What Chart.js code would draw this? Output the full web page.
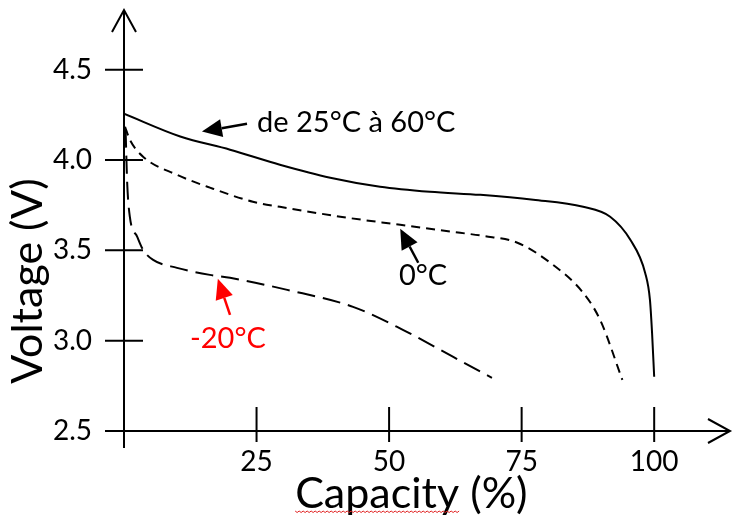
<!DOCTYPE html>
<html>
<head>
<meta charset="utf-8">
<script src="https://cdn.jsdelivr.net/npm/chart.js@4/dist/chart.umd.min.js"></script>
<style>
  html, body { margin: 0; padding: 0; background: #fff; }
  #wrap { width: 741px; height: 517px; }
</style>
</head>
<body>
<div id="wrap"><canvas id="chart"></canvas></div>
<script>
const FONT = 'Lato, "Open Sans", sans-serif';

const X_TICKS = [25, 50, 75, 100];
const Y_TICKS = [2.5, 3.0, 3.5, 4.0, 4.5];
const X_MAX = 114.3;
const Y_MIN = 2.5;
const Y_MAX = 4.83;

const X_TITLE = 'Capacity (%)';
const Y_TITLE = 'Voltage (V)';

// de 25°C à 60°C (solid)
const WARM_CAP = [0, 10.6, 20, 29.4, 38.9, 48.3, 57.7, 67.2, 77.2, 86.6, 91.7, 95.5, 98.3, 99.2, 99.6, 100];
const WARM_V = [4.256, 4.13, 4.057, 3.974, 3.902, 3.852, 3.824, 3.807, 3.78, 3.741, 3.686, 3.558, 3.375, 3.226, 3.043, 2.80];

// 0°C (short dashes)
const COLD_CAP = [0.2, 1.1, 3.6, 10, 16.2, 24.3, 29.4, 40.8, 52.1, 63.4, 67.7, 74.2, 80.4, 86.6, 89.8, 94.0];
const COLD_V = [4.184, 4.112, 4.018, 3.918, 3.847, 3.769, 3.741, 3.686, 3.641, 3.597, 3.58, 3.542, 3.431, 3.265, 3.115, 2.783];

// -20°C (long dashes)
const FROZEN_CAP = [0.3, 0.6, 1.1, 2.5, 3.6, 5.5, 10.0, 16.2, 20.0, 30.8, 43.2, 52.6, 62.1, 69.4];
const FROZEN_V = [4.168, 3.874, 3.686, 3.575, 3.503, 3.447, 3.403, 3.364, 3.348, 3.281, 3.187, 3.060, 2.910, 2.794];

// callouts: text, colour, arrow tip, arrow tail, text anchor (capacity, voltage)
const NOTE_TEXT = ['de 25°C à 60°C', '0°C', '-20°C'];
const NOTE_COLOR = ['#000000', '#000000', '#ff0000'];
const NOTE_TIP = [[14.7, 4.157], [52.1, 3.619], [17.7, 3.342]];
const NOTE_TAIL = [[23.2, 4.20], [55.5, 3.431], [20, 3.143]];
const NOTE_AT = [[25.1, 4.157], [56.4, 3.309], [19.6, 2.96]];
const NOTE_ALIGN = ['left', 'center', 'center'];

function pts(xs, ys) {
    return xs.map(function (x, i) {
        return { x: x, y: ys[i] };
    });
}

function line(ctx, pts) {
    ctx.beginPath();
    ctx.moveTo(pts[0][0], pts[0][1]);
    for (let i = 1; i < pts.length; i++) ctx.lineTo(pts[i][0], pts[i][1]);
    ctx.stroke();
}

const axesPlugin = {
    id: 'handAxes',
    beforeDatasetsDraw(chart) {
        const ctx = chart.ctx;
        const xs = chart.scales.x;
        const ys = chart.scales.y;
        const area = chart.chartArea;
        const x0 = xs.getPixelForValue(0);
        const yb = ys.getPixelForValue(Y_MIN);

        ctx.save();
        ctx.strokeStyle = '#000';
        ctx.lineWidth = 2;
        ctx.lineCap = 'butt';

        // axes with open arrowheads
        line(ctx, [[x0, yb + 17], [x0, area.top]]);
        line(ctx, [[x0 - 12, area.top + 22], [x0, area.top], [x0 + 12, area.top + 22]]);
        line(ctx, [[x0 - 19, yb], [area.right, yb]]);
        line(ctx, [[area.right - 22, yb - 12], [area.right, yb], [area.right - 22, yb + 12]]);

        Y_TICKS.forEach(function (v) {
            const y = ys.getPixelForValue(v);
            line(ctx, [[x0 - 19, y], [x0 + 19, y]]);
        });
        X_TICKS.forEach(function (v) {
            const x = xs.getPixelForValue(v);
            line(ctx, [[x, yb - 24], [x, yb + 11]]);
        });

        // axis titles
        ctx.fillStyle = '#000';
        ctx.font = '43px ' + FONT;
        ctx.textAlign = 'center';
        ctx.textBaseline = 'alphabetic';
        const tx = xs.getPixelForValue(54.2);
        ctx.fillText(X_TITLE, tx, yb + 77);

        // spell-check squiggle under "Capacity"
        const w = ctx.measureText(X_TITLE).width;
        const wWord = ctx.measureText('Capacity').width;
        const sx = tx - w / 2;
        ctx.strokeStyle = '#e02020';
        ctx.lineWidth = 1;
        ctx.beginPath();
        for (let i = 0; i <= wWord; i += 2) {
            const y = yb + 80 + (i % 4 === 0 ? 0 : 1.5);
            if (i === 0) ctx.moveTo(sx + i, y); else ctx.lineTo(sx + i, y);
        }
        ctx.stroke();

        ctx.save();
        ctx.translate(42, ys.getPixelForValue(3.33));
        ctx.rotate(-Math.PI / 2);
        ctx.fillText(Y_TITLE, 0, 0);
        ctx.restore();

        ctx.restore();
    },
    afterDatasetsDraw(chart) {
        const ctx = chart.ctx;
        const xs = chart.scales.x;
        const ys = chart.scales.y;
        ctx.save();
        NOTE_TEXT.forEach(function (text, i) {
            const tip = [xs.getPixelForValue(NOTE_TIP[i][0]), ys.getPixelForValue(NOTE_TIP[i][1])];
            const tail = [xs.getPixelForValue(NOTE_TAIL[i][0]), ys.getPixelForValue(NOTE_TAIL[i][1])];
            const ang = Math.atan2(tip[1] - tail[1], tip[0] - tail[0]);
            const len = 20, half = 9;
            const base = [tip[0] - len * Math.cos(ang), tip[1] - len * Math.sin(ang)];
            ctx.strokeStyle = NOTE_COLOR[i];
            ctx.fillStyle = NOTE_COLOR[i];
            ctx.lineWidth = 2.5;
            line(ctx, [tail, base]);
            ctx.beginPath();
            ctx.moveTo(tip[0], tip[1]);
            ctx.lineTo(base[0] + half * Math.sin(ang), base[1] - half * Math.cos(ang));
            ctx.lineTo(base[0] - half * Math.sin(ang), base[1] + half * Math.cos(ang));
            ctx.closePath();
            ctx.fill();

            ctx.font = '29px ' + FONT;
            ctx.textAlign = NOTE_ALIGN[i];
            ctx.textBaseline = 'alphabetic';
            ctx.fillText(text, xs.getPixelForValue(NOTE_AT[i][0]), ys.getPixelForValue(NOTE_AT[i][1]));
        });
        ctx.restore();
    },
};

new Chart(document.getElementById('chart'), {
    type: 'line',
    data: {
        datasets: [
            {
                label: 'de 25°C à 60°C',
                data: pts(WARM_CAP, WARM_V),
                borderColor: '#000',
                borderWidth: 2,
            },
            {
                label: '0°C',
                data: pts(COLD_CAP, COLD_V),
                borderColor: '#000',
                borderWidth: 2,
                borderDash: [9, 6],
            },
            {
                label: '-20°C',
                data: pts(FROZEN_CAP, FROZEN_V),
                borderColor: '#000',
                borderWidth: 2,
                borderDash: [18, 8],
            },
        ],
    },
    options: {
        responsive: true,
        maintainAspectRatio: false,
        animation: false,
        layout: { padding: { left: 0, right: 11, top: 10, bottom: 0 } },
        elements: {
            point: { radius: 0 },
            line: { cubicInterpolationMode: 'monotone', fill: false },
        },
        plugins: {
            legend: { display: false },
            tooltip: { enabled: false },
        },
        scales: {
            x: {
                type: 'linear',
                min: 0,
                max: X_MAX,
                grid: { display: false },
                border: { display: false },
                afterFit: function (s) {
                    s.height = 86;
                    s.paddingLeft = 0;
                    s.paddingRight = 0;
                },
                afterBuildTicks: function (s) {
                    s.ticks = X_TICKS.map(function (v) { return { value: v }; });
                },
                ticks: {
                    padding: 6,
                    color: '#000',
                    maxRotation: 0,
                    autoSkip: false,
                    font: { family: FONT, size: 28 },
                },
            },
            y: {
                type: 'linear',
                min: Y_MIN,
                max: Y_MAX,
                grid: { display: false },
                border: { display: false },
                afterFit: function (s) {
                    s.width = 124;
                    s.paddingTop = 0;
                    s.paddingBottom = 0;
                },
                afterBuildTicks: function (s) {
                    s.ticks = Y_TICKS.map(function (v) { return { value: v }; });
                },
                ticks: {
                    padding: 24,
                    color: '#000',
                    autoSkip: false,
                    font: { family: FONT, size: 28 },
                    callback: function (v) { return v.toFixed(1); },
                },
            },
        },
    },
    plugins: [axesPlugin],
});
</script>
</body>
</html>
